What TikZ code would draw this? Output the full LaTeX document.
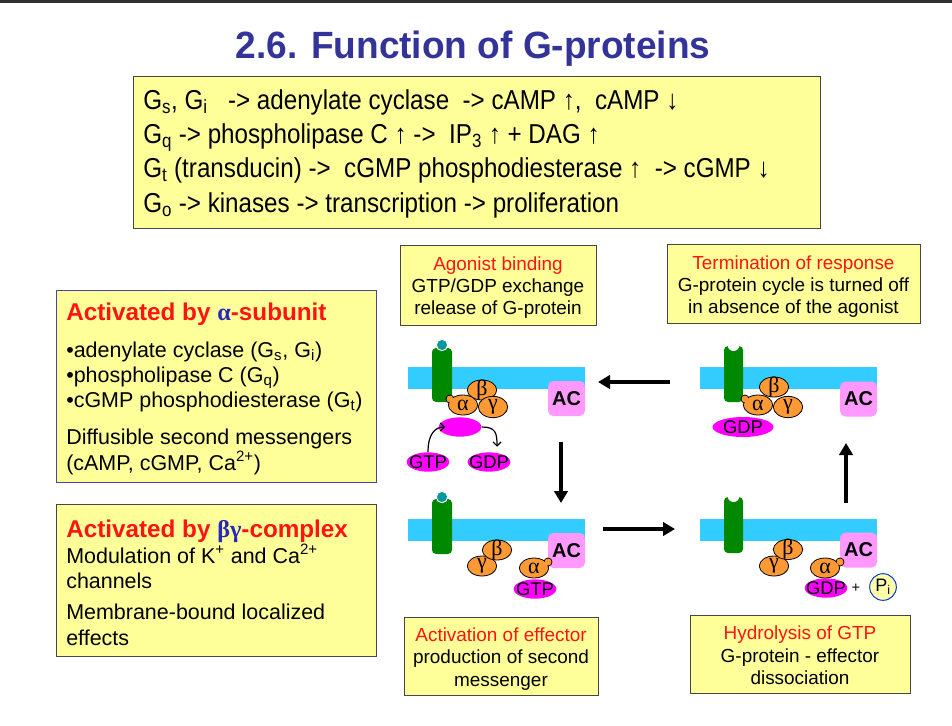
\documentclass[tikz,border=0pt]{standalone}
\usepackage{fontspec}
\setmainfont{Liberation Sans}
\newfontfamily\narrowfont[FakeStretch=0.885]{Liberation Sans}
\newfontfamily\titlefont[FakeStretch=0.975]{Liberation Sans}
\newfontfamily\greekfont{Liberation Serif}
\usetikzlibrary{shapes.geometric,arrows.meta}
\definecolor{boxyellow}{RGB}{255,255,153}
\definecolor{boxgray}{RGB}{70,70,70}
\definecolor{boxblue}{RGB}{70,70,160}
\definecolor{titleblue}{RGB}{51,51,153}
\definecolor{hred}{RGB}{255,20,20}
\definecolor{gblue}{RGB}{40,40,190}
\definecolor{topbar}{RGB}{50,50,50}
\definecolor{memcyan}{RGB}{51,204,255}
\definecolor{recgreen}{RGB}{0,136,0}
\definecolor{tealc}{RGB}{0,153,153}
\definecolor{suborange}{RGB}{255,153,51}
\definecolor{nucmag}{RGB}{255,0,255}
\definecolor{acpink}{RGB}{255,153,255}
\definecolor{piyellow}{RGB}{255,255,170}
\definecolor{piblue}{RGB}{0,60,210}
\begin{document}
\begin{tikzpicture}[x=0.75pt,y=-0.75pt,
  ybox/.style={draw=boxgray, fill=boxyellow, line width=0.75pt, inner sep=0pt, anchor=north west},
  toptext/.style={anchor=base west, inner sep=0pt, font=\narrowfont\fontsize{20.5}{24}\selectfont},
  lefttitle/.style={anchor=base west, inner sep=0pt, text=hred, font=\bfseries\fontsize{18.2}{22}\selectfont},
  lefttext/.style={anchor=base west, inner sep=0pt, font=\fontsize{16.1}{19}\selectfont},
  labtitle/.style={anchor=base, inner sep=0pt, text=hred, font=\fontsize{14.2}{16}\selectfont},
  labtext/.style={anchor=base, inner sep=0pt, font=\fontsize{14.2}{16}\selectfont},
  subtext/.style={inner sep=0pt, font=\greekfont\fontsize{16.5}{16.5}\selectfont},
  sub/.style={ellipse, draw=black, line width=0.6pt, fill=suborange, inner sep=0pt, minimum width=22pt, minimum height=15pt},
  nuctext/.style={inner sep=0pt, font=\fontsize{13.8}{14}\selectfont},
  nuc/.style={ellipse, fill=nucmag, inner sep=0pt, minimum width=32pt, minimum height=14.5pt},
  acbox/.style={rectangle, rounded corners=4pt, fill=acpink, inner sep=0pt, minimum width=27.75pt, minimum height=26.25pt, font=\bfseries\fontsize{15}{15}\selectfont},
  lig/.style={circle, fill=tealc, draw=white, line width=0.75pt, minimum size=8.5pt, inner sep=0pt},
  bigarr/.style={line width=3pt, -{Triangle[length=9pt,width=10pt]}},
  smallarr/.style={line width=0.9pt, -{Straight Barb[length=3pt,width=6pt]}}
]
\useasboundingbox (0,0) rectangle (952,725);
\fill[topbar] (0,0) rectangle (952,3);

% title
\node[anchor=base, inner sep=0pt, text=titleblue, font=\titlefont\bfseries\fontsize{28.5}{30}\selectfont] (title) at (473,58) {2.6. Function of G-proteins};

% top box
\node[ybox, minimum width=515.25pt, minimum height=114pt] (topbox) at (133,76) {};
\node[toptext] (tl1) at (143,109) {G\textsubscript{s}, G\textsubscript{i}\ \ \ -> adenylate cyclase\ \ -> cAMP ↑,\ \ cAMP ↓};
\node[toptext] (tl2) at (143,143) {G\textsubscript{q} -> phospholipase C ↑ ->\ \ IP\textsubscript{3} ↑ + DAG ↑};
\node[toptext] (tl3) at (143,177) {G\textsubscript{t} (transducin) ->\ \ cGMP phosphodiesterase ↑\ \ -> cGMP ↓};
\node[toptext] (tl4) at (143,212) {G\textsubscript{o} -> kinases -> transcription -> proliferation};

% left box 1
\node[ybox, draw=boxblue, minimum width=240pt, minimum height=144pt] (abox) at (56,290) {};
\node[lefttitle] (at1) at (66,320) {Activated by {\greekfont\color{gblue}α}-subunit};
\node[lefttext] (ab1) at (66,357) {•adenylate cyclase (G\textsubscript{s}, G\textsubscript{i})};
\node[lefttext] (ab2) at (66,382) {•phospholipase C (G\textsubscript{q})};
\node[lefttext] (ab3) at (66,407) {•cGMP phosphodiesterase (G\textsubscript{t})};
\node[lefttext] (ab4) at (66,444) {Diffusible second messengers};
\node[lefttext] (ab5) at (66,470) {(cAMP, cGMP, Ca\textsuperscript{2+})};

% left box 2
\node[ybox, minimum width=240pt, minimum height=114pt] (bbox) at (56,504) {};
\node[lefttitle] (bt1) at (66,537) {Activated by {\greekfont\color{gblue}βγ}-complex};
\node[lefttext] (bb1) at (66,563) {Modulation of K\textsuperscript{+} and Ca\textsuperscript{2+}};
\node[lefttext] (bb2) at (66,588) {channels};
\node[lefttext] (bb3) at (66,619) {Membrane-bound localized};
\node[lefttext] (bb4) at (66,645) {effects};

% label boxes
\node[ybox, minimum width=147pt, minimum height=60pt] (agbox) at (400,245) {};
\node[labtitle] (ag1) at (498,270) {Agonist binding};
\node[labtext] (ag2) at (498,292) {GTP/GDP exchange};
\node[labtext] (ag3) at (498,314) {release of G-protein};

\node[ybox, minimum width=189.75pt, minimum height=59.25pt] (tebox) at (667,244) {};
\node[labtitle] (te1) at (793.5,269) {Termination of response};
\node[labtext] (te2) at (793.5,291) {G-protein cycle is turned off};
\node[labtext] (te3) at (793.5,313) {in absence of the agonist};

\node[ybox, minimum width=145.5pt, minimum height=58.5pt] (acbox) at (404,617) {};
\node[labtitle] (ac1) at (501,641) {Activation of effector};
\node[labtext] (ac2) at (501,663) {production of second};
\node[labtext] (ac3) at (501,686) {messenger};

\node[ybox, minimum width=165pt, minimum height=58.5pt] (hybox) at (690,615) {};
\node[labtitle] (hy1) at (800,639) {Hydrolysis of GTP};
\node[labtext] (hy2) at (800,662) {G-protein - effector};
\node[labtext] (hy3) at (800,684) {dissociation};

% ---------- panel A (top left) ----------
\fill[memcyan] (408,367) rectangle (585,389);
\fill[recgreen, rounded corners=3pt] (432,348) rectangle (452,402);
\node[lig] (ligA) at (442,345) {};
\node[acbox] (acA) at (566.5,398.5) {AC};
\node[sub, label={[subtext]center:β}] (beA) at (482,390) {};
\fill[suborange, draw=black, line width=0.6pt] (450,399) circle[radius=4];
\node[sub, label={[subtext]center:α}] (alA) at (463,405) {};
\fill[suborange] (450,399) circle[radius=3.2];
\node[sub, label={[subtext]center:γ}, minimum height=16pt] (gaA) at (493,407) {};
\node[nuc] (mgA) at (460,427) {};
\node[nuc, label={[nuctext]center:GTP}] (gtpA) at (428,462) {};
\node[nuc, label={[nuctext]center:GDP}] (gdpA) at (489,462) {};
\draw[smallarr] (gtpA.north) .. controls +(0,-18) and +(-10,0) .. ([xshift=5pt]mgA.west);
\draw[smallarr] (mgA.east) .. controls +(14,0) and +(0,-14) .. ([xshift=6pt,yshift=4pt]gdpA.north);

% ---------- panel B (top right) ----------
\fill[memcyan] (700,367) rectangle (877,389);
\fill[recgreen, rounded corners=3pt] (724,346) rectangle (743,402);
\fill[white] (727.5,345) arc[start angle=180, end angle=0, radius=6] -- cycle;
\node[acbox] (acB) at (858.5,399) {AC};
\node[sub, label={[subtext]center:β}] (beB) at (774,387) {};
\fill[suborange, draw=black, line width=0.6pt] (745,399) circle[radius=4];
\node[sub, label={[subtext]center:α}] (alB) at (758,405) {};
\fill[suborange] (745,399) circle[radius=3.2];
\node[sub, label={[subtext]center:γ}, minimum height=16pt] (gaB) at (788,407) {};
\node[nuc, minimum width=45.75pt, minimum height=15pt, label={[nuctext]center:GDP}] (gdpB) at (743,427) {};

% ---------- panel C (bottom left) ----------
\fill[memcyan] (408,519) rectangle (585,541);
\fill[recgreen, rounded corners=3pt] (432,499) rectangle (452,554);
\node[lig] (ligC) at (442,497) {};
\node[acbox] (acC) at (566.5,550.5) {AC};
\node[sub, label={[subtext]center:γ}] (gaC) at (482,566) {};
\node[sub, label={[subtext]center:β}] (beC) at (497,550) {};
\node[nuc, label={[nuctext]center:GTP}] (gtpC) at (535,589) {};
\fill[suborange, draw=black, line width=0.6pt] (548,562) circle[radius=4];
\node[sub, label={[subtext]center:α}] (alC) at (534,568) {};
\fill[suborange] (548,562) circle[radius=3.2];

% ---------- panel D (bottom right) ----------
\fill[memcyan] (700,519) rectangle (877,541);
\fill[recgreen, rounded corners=3pt] (724,497) rectangle (743,553);
\fill[white] (727.5,496) arc[start angle=180, end angle=0, radius=6] -- cycle;
\node[acbox] (acD) at (858.5,550) {AC};
\node[sub, label={[subtext]center:γ}] (gaD) at (774,566) {};
\node[sub, label={[subtext]center:β}] (beD) at (788,549.5) {};
\node[nuc, label={[nuctext]center:GDP}] (gdpD) at (826,588) {};
\fill[suborange, draw=black, line width=0.6pt] (840,562) circle[radius=4];
\node[sub, label={[subtext]center:α}] (alD) at (825,568) {};
\fill[suborange] (840,562) circle[radius=3.2];
\node[inner sep=0pt, font=\fontsize{11}{11}\selectfont] (plusD) at (856,588) {+};
\node[circle, draw=piblue, line width=0.75pt, fill=piyellow, minimum size=20pt, inner sep=0pt, font=\fontsize{13.5}{14}\selectfont] (piD) at (883,587) {P\textsubscript{i}};

% ---------- cycle arrows ----------
\coordinate (arL1) at (670,382);
\coordinate (arL2) at (598,382);
\coordinate (arD1) at (561,442);
\coordinate (arD2) at (561,503);
\coordinate (arR1) at (603,529);
\coordinate (arR2) at (675,529);
\coordinate (arU1) at (846,503);
\coordinate (arU2) at (846,443);
\draw[bigarr] (arL1) -- (arL2);
\draw[bigarr] (arD1) -- (arD2);
\draw[bigarr] (arR1) -- (arR2);
\draw[bigarr] (arU1) -- (arU2);
\end{tikzpicture}
\end{document}
